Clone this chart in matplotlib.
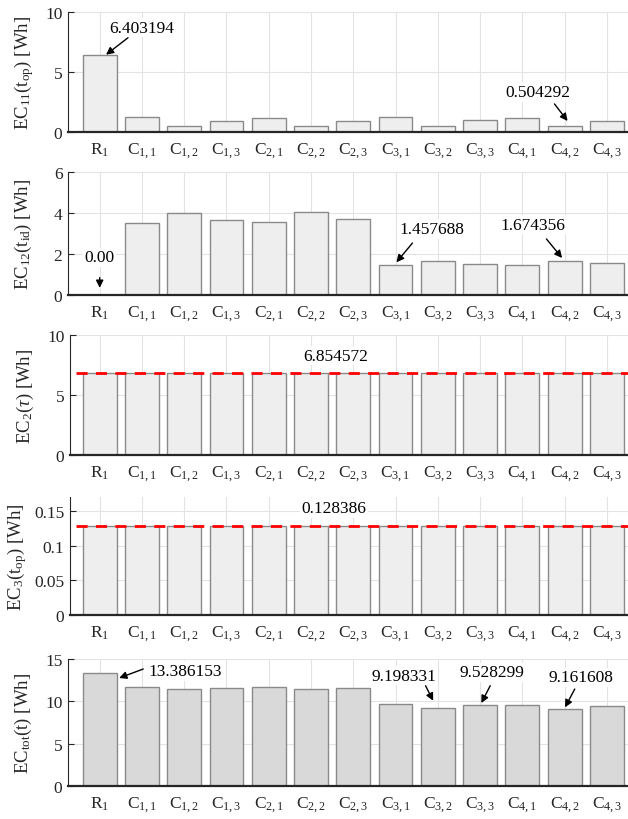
import matplotlib
matplotlib.use("Agg")
import matplotlib.pyplot as plt
from matplotlib.ticker import FuncFormatter

plt.rcParams['font.family'] = ['Liberation Serif', 'DejaVu Serif']
plt.rcParams['mathtext.fontset'] = 'custom'
plt.rcParams['mathtext.rm'] = 'Liberation Serif'
plt.rcParams['mathtext.it'] = 'Liberation Serif:italic'
plt.rcParams['mathtext.bf'] = 'Liberation Serif:bold'

# ---------------- data ----------------
categories = ['R$_1$', 'C$_{1,1}$', 'C$_{1,2}$', 'C$_{1,3}$', 'C$_{2,1}$', 'C$_{2,2}$',
              'C$_{2,3}$', 'C$_{3,1}$', 'C$_{3,2}$', 'C$_{3,3}$', 'C$_{4,1}$', 'C$_{4,2}$',
              'C$_{4,3}$']
ec11 = [6.403194, 1.25, 0.55, 0.97, 1.22, 0.50, 0.94, 1.25, 0.55, 1.00, 1.19, 0.504292, 0.94]
ec12 = [0.00, 3.51, 4.01, 3.68, 3.55, 4.04, 3.72, 1.457688, 1.65, 1.52, 1.47, 1.674356, 1.55]
ec2 = [6.854572, 6.854572, 6.854572, 6.854572, 6.854572, 6.854572, 6.854572,
       6.854572, 6.854572, 6.854572, 6.854572, 6.854572, 6.854572]
ec3 = [0.128386, 0.128386, 0.128386, 0.128386, 0.128386, 0.128386, 0.128386,
       0.128386, 0.128386, 0.128386, 0.128386, 0.128386, 0.128386]
ectot = [13.386153, 11.70, 11.50, 11.62, 11.66, 11.46, 11.62, 9.66, 9.198331, 9.528299,
         9.62, 9.161608, 9.42]
ec2_ref = 6.854572
ec3_ref = 0.128386

ylabels = [r'EC$_{11}$(t$_{\rm op}$) [Wh]', r'EC$_{12}$(t$_{\rm id}$) [Wh]',
           r'EC$_{2}$($\tau$) [Wh]', r'EC$_{3}$(t$_{\rm op}$) [Wh]',
           r'EC$_{\rm tot}$(t) [Wh]']
ylims = [(0, 10), (0, 6), (0, 10), (0, 0.17), (0, 15)]
yticks = [[0, 5, 10], [0, 2, 4, 6], [0, 5, 10], [0, 0.05, 0.1, 0.15], [0, 5, 10, 15]]

W, H = 628, 820
fig = plt.figure(figsize=(W / 100, H / 100), dpi=100)

# (left_px, top_px, bottom_px, xlim_left, ylabel_right_px)
layout = [(68, 13, 133.3, -0.75, 36),
          (68, 173.3, 296, -0.75, 34),
          (70, 336, 456, -0.70, 36),
          (70, 498, 616, -0.70, 29),
          (68, 660, 787.3, -0.75, 34)]
series = [ec11, ec12, ec2, ec3, ectot]
fills = ['#eeeeee', '#eeeeee', '#eeeeee', '#eeeeee', '#d9d9d9']

FS = 12.5
axes = []
x = list(range(len(categories)))
for i, (lp, tp, bp, xl, ylx) in enumerate(layout):
    ax = fig.add_axes([lp / W, 1 - bp / H, (W - lp) / W, (bp - tp) / H])
    axes.append(ax)
    ax.bar(x, series[i], width=0.8, color=fills[i], edgecolor='#8a8a8a', linewidth=1.0,
           zorder=2)
    ax.set_xlim(xl, 12.5)
    ax.set_ylim(*ylims[i])
    ax.set_yticks(yticks[i])
    ax.yaxis.set_major_formatter(FuncFormatter(lambda v, p: '%g' % v))
    ax.set_xticks(x)
    ax.set_xticklabels(categories, fontsize=FS, color='#262626')
    ax.tick_params(axis='x', length=0, pad=6)
    ax.tick_params(axis='y', direction='in', length=4, width=0.8, colors='#262626',
                   labelsize=FS, pad=4)
    ax.grid(True, color='#e3e3e3', linewidth=0.8)
    ax.set_axisbelow(True)
    for s in ['top', 'right']:
        ax.spines[s].set_visible(False)
    ax.spines['left'].set_color('#262626')
    ax.spines['left'].set_linewidth(0.8)
    ax.spines['bottom'].set_color('#262626')
    ax.spines['bottom'].set_linewidth(1.6)
    ax.spines['bottom'].set_zorder(3)
    ax.set_ylabel(ylabels[i], fontsize=13.5, color='#262626')
    ax.yaxis.set_label_coords((ylx - lp) / (W - lp), 0.5)

box = dict(boxstyle='square,pad=0.1', facecolor='white', edgecolor='none')
arrow = dict(arrowstyle='-|>', color='black', lw=1.0, mutation_scale=11,
             shrinkA=0, shrinkB=0)


def note(ax, text, txy, start=None, tip=None):
    ax.text(txy[0], txy[1], text, ha='center', va='center', fontsize=FS,
            color='black', bbox=box, zorder=6)
    if start is not None:
        ax.annotate('', xy=tip, xytext=start, arrowprops=arrow, zorder=7)


note(axes[0], '6.403194', (1.0, 8.7), (0.67, 7.86), (0.15, 6.45))
note(axes[0], '0.504292', (10.36, 3.36), (10.76, 2.36), (11.07, 0.94))

note(axes[1], '0.00', (0.0, 1.84), (0.0, 0.85), (0.0, 0.35))
note(axes[1], '1.457688', (7.85, 3.23), (7.40, 2.54), (7.02, 1.60))
note(axes[1], '1.674356', (10.25, 3.44), (10.57, 2.74), (10.94, 1.81))

axes[2].plot([-0.55, 12.5], [ec2_ref, ec2_ref], color='#ff0000', lw=2.0,
             dashes=(4, 3), zorder=5)
note(axes[2], '6.854572', (5.58, 8.27))

axes[3].plot([-0.55, 12.5], [ec3_ref, ec3_ref], color='#ff0000', lw=2.0,
             dashes=(4, 3), zorder=5)
note(axes[3], '0.128386', (5.54, 0.154))

note(axes[4], '13.386153', (2.03, 13.6), (1.03, 13.82), (0.46, 12.76))
note(axes[4], '9.198331', (7.2, 13.03), (7.71, 11.85), (7.89, 10.08))
note(axes[4], '9.528299', (9.27, 13.43), (9.24, 11.85), (9.03, 9.81))
note(axes[4], '9.161608', (11.39, 12.84), (11.24, 11.46), (11.01, 9.30))

fig.savefig('out.png', dpi=100)
